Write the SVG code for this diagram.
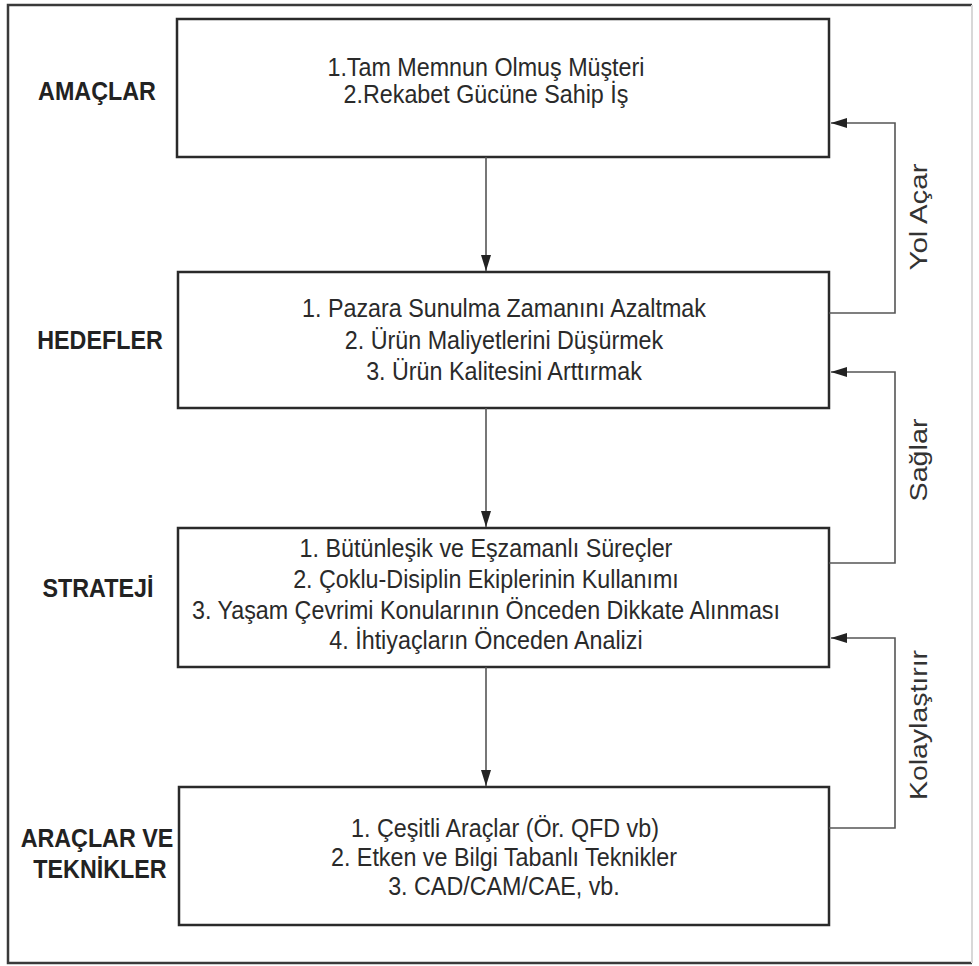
<svg xmlns="http://www.w3.org/2000/svg" width="979" height="966" viewBox="0 0 979 966">
  <style>
    .frame { fill: none; stroke: #3a3a3a; stroke-width: 2.5; }
    .box { fill: #ffffff; stroke: #2a2a2a; stroke-width: 2.5; }
    .link { fill: none; stroke: #555555; stroke-width: 1.6; }
    .label { font-family: "Liberation Sans", Arial, sans-serif; font-weight: bold; font-size: 25.5px; fill: #222222; text-anchor: middle; }
    .item { font-family: "Liberation Sans", Arial, sans-serif; font-size: 25.5px; fill: #2a2a2a; text-anchor: middle; }
    .side { font-family: "Liberation Sans", Arial, sans-serif; font-size: 23px; fill: #333333; text-anchor: middle; }
  </style>
  <defs>
    <marker id="head" viewBox="0 0 16 10" refX="16" refY="5" markerWidth="16" markerHeight="10" markerUnits="userSpaceOnUse" orient="auto">
      <path d="M0,0 L16,5 L0,10 Z" fill="#222222"/>
    </marker>
  </defs>

  <rect width="979" height="966" fill="#ffffff"/>

  <!-- outer frame -->
  <g id="frame">
    <path class="frame" d="M972,5 H8 V963 H972"/>
    <line x1="972" y1="5" x2="972" y2="963" stroke="#d8d8d8" stroke-width="2"/>
  </g>

  <!-- row labels (narrowed type: x values are divided by 0.914) -->
  <g id="labels" transform="scale(0.914 1)">
    <text class="label" x="106.1" y="100">AMAÇLAR</text>
    <text class="label" x="109.4" y="349">HEDEFLER</text>
    <text class="label" x="107.2" y="597">STRATEJİ</text>
    <text class="label" x="106.1" y="847">ARAÇLAR VE</text>
    <text class="label" x="109.4" y="878">TEKNİKLER</text>
  </g>

  <g id="amaclar">
    <rect class="box" x="177" y="19" width="652" height="138"/>
    <g transform="scale(0.914 1)">
      <text class="item" x="531.7" y="76">1.Tam Memnun Olmuş Müşteri</text>
      <text class="item" x="531.7" y="103">2.Rekabet Gücüne Sahip İş</text>
    </g>
  </g>

  <g id="hedefler">
    <rect class="box" x="178" y="272" width="651" height="136"/>
    <g transform="scale(0.914 1)">
      <text class="item" x="551.4" y="317">1. Pazara Sunulma Zamanını Azaltmak</text>
      <text class="item" x="551.4" y="349">2. Ürün Maliyetlerini Düşürmek</text>
      <text class="item" x="551.4" y="380">3. Ürün Kalitesini Arttırmak</text>
    </g>
  </g>

  <g id="strateji">
    <rect class="box" x="178" y="528" width="651" height="139"/>
    <g transform="scale(0.914 1)">
      <text class="item" x="531.7" y="557">1. Bütünleşik ve Eşzamanlı Süreçler</text>
      <text class="item" x="531.7" y="588">2. Çoklu-Disiplin Ekiplerinin Kullanımı</text>
      <text class="item" x="531.7" y="619">3. Yaşam Çevrimi Konularının Önceden Dikkate Alınması</text>
      <text class="item" x="531.7" y="649">4. İhtiyaçların Önceden Analizi</text>
    </g>
  </g>

  <g id="araclar">
    <rect class="box" x="179" y="787" width="650" height="138"/>
    <g transform="scale(0.914 1)">
      <text class="item" x="552.5" y="837">1. Çeşitli Araçlar (Ör. QFD vb)</text>
      <text class="item" x="551.4" y="866">2. Etken ve Bilgi Tabanlı Teknikler</text>
      <text class="item" x="551.4" y="895">3. CAD/CAM/CAE, vb.</text>
    </g>
  </g>

  <!-- connectors -->
  <g id="connectors">
    <line class="link" x1="486" y1="157" x2="486" y2="271" marker-end="url(#head)"/>
    <line class="link" x1="486" y1="408" x2="486" y2="527" marker-end="url(#head)"/>
    <line class="link" x1="486" y1="667" x2="486" y2="786" marker-end="url(#head)"/>
    <path class="link" d="M829,313 H895 V123 H831" marker-end="url(#head)"/>
    <path class="link" d="M829,563 H895 V372 H831" marker-end="url(#head)"/>
    <path class="link" d="M829,828 H895 V638 H831" marker-end="url(#head)"/>
  </g>

  <!-- connector labels -->
  <g id="connector-labels">
    <text class="side" transform="translate(927 217) rotate(-90)" textLength="107" lengthAdjust="spacingAndGlyphs">Yol Açar</text>
    <text class="side" transform="translate(927 460) rotate(-90)" textLength="83" lengthAdjust="spacingAndGlyphs">Sağlar</text>
    <text class="side" transform="translate(927 725) rotate(-90)" textLength="150" lengthAdjust="spacingAndGlyphs">Kolaylaştırır</text>
  </g>
</svg>
